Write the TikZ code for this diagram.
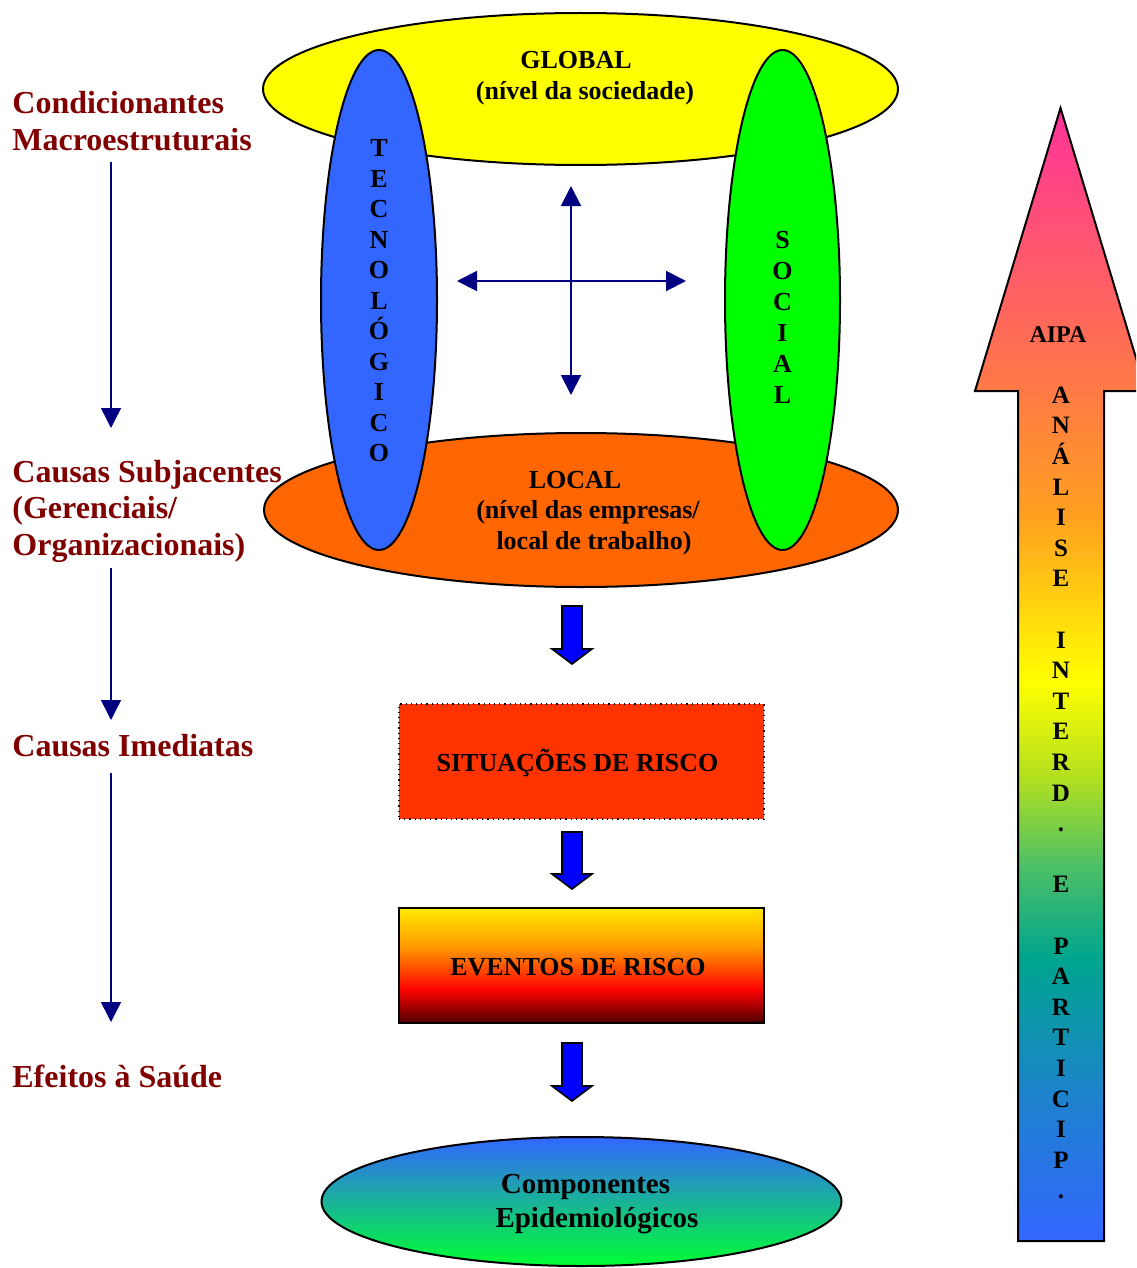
\documentclass[tikz,border=0pt]{standalone}
\usepackage{fontspec}
\setmainfont{Liberation Serif}
\usetikzlibrary{shapes.geometric,arrows.meta}
\definecolor{lblred}{HTML}{800000}
\definecolor{navyc}{HTML}{000080}
\definecolor{globy}{HTML}{FFFF00}
\definecolor{loco}{HTML}{FF6600}
\definecolor{tecb}{HTML}{3366FF}
\definecolor{socg}{HTML}{00FF00}
\definecolor{sitred}{HTML}{FF3300}
\definecolor{arrowblue}{HTML}{0000FF}
\definecolor{cmptop}{HTML}{3366FF}
\definecolor{cmpbot}{HTML}{00FF33}
\definecolor{ev0}{HTML}{500000}
\definecolor{ev1}{HTML}{B00000}
\definecolor{ev2}{HTML}{FF0500}
\definecolor{ev3}{HTML}{FF9900}
\definecolor{ev4}{HTML}{FFE800}
\definecolor{ac0}{HTML}{3366FF}
\definecolor{ac1}{HTML}{1F80D0}
\definecolor{ac2}{HTML}{00A58E}
\definecolor{ac3}{HTML}{4CBF66}
\definecolor{ac4}{HTML}{B3E01F}
\definecolor{ac5}{HTML}{FFFF00}
\definecolor{ac6}{HTML}{FFA020}
\definecolor{ac7}{HTML}{FF7A45}
\definecolor{ac8}{HTML}{FF3399}
\pgfdeclareverticalshading{evshade}{100bp}{color(0bp)=(ev0); color(25bp)=(ev0); color(33bp)=(ev1); color(40bp)=(ev2); color(58bp)=(ev3); color(75bp)=(ev4); color(100bp)=(ev4)}
\pgfdeclareverticalshading{aipashade}{100bp}{color(0bp)=(ac0); color(25bp)=(ac0); color(31bp)=(ac1); color(37.5bp)=(ac2); color(41.5bp)=(ac3); color(45.5bp)=(ac4); color(49.7bp)=(ac5); color(57bp)=(ac6); color(62.5bp)=(ac7); color(75bp)=(ac8); color(100bp)=(ac8)}
\tikzset{
  lbl/.style={font=\fontsize{16}{18.5}\selectfont\bfseries, text=lblred, anchor=base west, inner sep=0pt},
  ctr/.style={font=\fontsize{13}{15.5}\selectfont\bfseries, anchor=base, inner sep=0pt},
  cmpt/.style={font=\fontsize{14.5}{17}\selectfont\bfseries, anchor=base, inner sep=0pt},
  vlet/.style={font=\fontsize{13}{15}\selectfont\bfseries, anchor=base, inner sep=0pt},
  alet/.style={font=\fontsize{12.5}{15}\selectfont\bfseries, anchor=base, inner sep=0pt},
  ell/.style={ellipse, draw=black, line width=1pt, inner sep=0pt},
  lvlarrow/.style={draw=navyc, line width=0.75pt, -{Triangle[length=10pt,width=10pt]}},
  crossarrow/.style={draw=navyc, line width=1pt, {Triangle[length=10pt,width=10pt]}-{Triangle[length=10pt,width=10pt]}},
  blk/.style={fill=arrowblue, draw=black, line width=0.8pt, line join=miter},
}
\newcommand\blockarrowdown[3]{%
  \draw[blk] (#1-10,#2) -- (#1+10,#2) -- (#1+10,#3) -- (#1+20,#3) -- (#1,#3+15) -- (#1-20,#3) -- (#1-10,#3) -- cycle;}
\begin{document}
\begin{tikzpicture}[x=0.5pt,y=-0.5pt]
\useasboundingbox (0,0) rectangle (1136,1268);
\clip (0,0) rectangle (1136,1268);

% left labels
\node[lbl] (cond1) at (12,113) {Condicionantes};
\node[lbl] (cond2) at (12,150) {Macroestruturais};
\node[lbl] (sub1) at (12,482) {Causas Subjacentes};
\node[lbl] (sub2) at (12,518.5) {(Gerenciais/};
\node[lbl] (sub3) at (12,555) {Organizacionais)};
\node[lbl] (ime) at (12,756) {Causas Imediatas};
\node[lbl] (efe) at (12,1087) {Efeitos à Saúde};

\coordinate (la1s) at (111,162);
\coordinate (la1e) at (111,428);
\coordinate (la2s) at (111,568);
\coordinate (la2e) at (111,720);
\coordinate (la3s) at (111,773);
\coordinate (la3e) at (111,1022);
\draw[lvlarrow] (la1s) -- (la1e);
\draw[lvlarrow] (la2s) -- (la2e);
\draw[lvlarrow] (la3s) -- (la3e);

% level ellipses
\node[ell, fill=globy, minimum width=317.5pt, minimum height=76pt] (global) at (580.5,89) {};
\node[ell, fill=loco, minimum width=317pt, minimum height=77pt] (local) at (581,510) {};
\node[ell, fill=tecb, minimum width=58pt, minimum height=250pt] (tec) at (379,300) {};
\node[ell, fill=socg, minimum width=57.5pt, minimum height=250pt] (soc) at (782.5,300) {};

\node[ctr] (globalt1) at (576,68.5) {GLOBAL};
\node[ctr] (globalt2) at (585,99) {(nível da sociedade)};
\node[ctr] (localt1) at (575,488) {LOCAL};
\node[ctr] (localt2) at (588,518.5) {(nível das empresas/};
\node[ctr] (localt3) at (594,549) {local de trabalho)};

\foreach \l [count=\i] in {T,E,C,N,O,L,Ó,G,I,C,O}
  \node[vlet] (tecl\i) at (379,{156.6+(\i-1)*30.5}) {\l};
\foreach \l [count=\i] in {S,O,C,I,A,L}
  \node[vlet] (socl\i) at (782.5,{248.6+(\i-1)*31}) {\l};

% cross arrows
\coordinate (crT) at (571,186);
\coordinate (crB) at (571,395);
\coordinate (crL) at (457,281);
\coordinate (crR) at (686,281);
\draw[crossarrow] (crT) -- (crB);
\draw[crossarrow] (crL) -- (crR);

% central chain
\blockarrowdown{572}{606}{649}
\node[draw=black, dotted, line width=0.6pt, fill=sitred, minimum width=182.5pt, minimum height=57.5pt, inner sep=0pt] (sit) at (581.5,761.5) {};
\node[ctr] (sitt) at (577.5,771.5) {SITUAÇÕES DE RISCO};
\blockarrowdown{572}{832}{874}
\node[draw=black, line width=1pt, shade, shading=evshade, minimum width=182.5pt, minimum height=57.5pt, inner sep=0pt] (eve) at (581.5,965.5) {};
\node[ctr] (evet) at (578,975) {EVENTOS DE RISCO};
\blockarrowdown{572}{1043}{1086}
\node[ell, top color=cmptop, bottom color=cmpbot, minimum width=260pt, minimum height=64.5pt] (cmp) at (581.5,1201.5) {};
\node[cmpt] (cmpt1) at (585.5,1193) {Componentes};
\node[cmpt] (cmpt2) at (597,1227) {Epidemiológicos};

% big AIPA arrow
\shadedraw[shading=aipashade, draw=black, line width=1pt, line join=miter]
  (1060.5,108) -- (1146,391) -- (1104,391) -- (1104,1241) -- (1018,1241) -- (1018,391) -- (975,391) -- cycle;
\node[font=\fontsize{12}{14}\selectfont\bfseries, anchor=base, inner sep=0pt] (aipa) at (1058,342) {AIPA};
\foreach \l/\k in {A/0,N/1,Á/2,L/3,I/4,S/5,E/6,I/8,N/9,T/10,E/11,R/12,D/13,./14,E/16,P/18,A/19,R/20,T/21,I/22,C/23,I/24,P/25,./26}
  \node[alet] (al\k) at (1061,{403.3+\k*30.6}) {\l};
\end{tikzpicture}
\end{document}
